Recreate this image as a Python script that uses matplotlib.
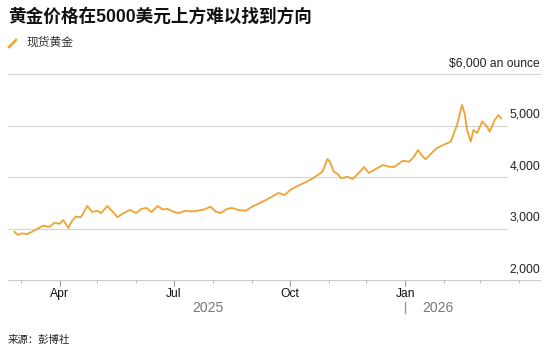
import matplotlib.pyplot as plt
import matplotlib.dates as mdates
import matplotlib.transforms as mtransforms
import pandas as pd

plt.rcParams['font.family'] = ['Liberation Sans', 'Noto Sans CJK SC', 'DejaVu Sans']

dates = [
    "2025-02-24", "2025-02-27", "2025-03-02", "2025-03-06", "2025-03-10", "2025-03-14",
    "2025-03-19", "2025-03-24", "2025-03-28", "2025-04-01", "2025-04-04", "2025-04-08",
    "2025-04-11", "2025-04-14", "2025-04-18", "2025-04-23", "2025-04-27", "2025-05-01",
    "2025-05-04", "2025-05-09", "2025-05-13", "2025-05-17", "2025-05-22", "2025-05-27",
    "2025-06-01", "2025-06-05", "2025-06-09", "2025-06-13", "2025-06-18", "2025-06-22",
    "2025-06-26", "2025-07-01", "2025-07-05", "2025-07-10", "2025-07-15", "2025-07-20",
    "2025-07-25", "2025-07-30", "2025-08-03", "2025-08-07", "2025-08-12", "2025-08-16",
    "2025-08-21", "2025-08-27", "2025-09-01", "2025-09-06", "2025-09-12", "2025-09-17",
    "2025-09-22", "2025-09-27", "2025-10-01", "2025-10-06", "2025-10-12", "2025-10-18",
    "2025-10-24", "2025-10-27", "2025-10-31", "2025-11-02", "2025-11-05", "2025-11-08",
    "2025-11-11", "2025-11-16", "2025-11-20", "2025-11-25", "2025-11-29", "2025-12-03",
    "2025-12-08", "2025-12-14", "2025-12-19", "2025-12-23", "2025-12-30", "2026-01-04",
    "2026-01-08", "2026-01-11", "2026-01-14", "2026-01-17", "2026-01-23", "2026-01-26",
    "2026-01-31", "2026-02-06", "2026-02-11", "2026-02-15", "2026-02-17", "2026-02-19",
    "2026-02-22", "2026-02-24", "2026-02-27", "2026-03-03", "2026-03-07", "2026-03-09",
    "2026-03-13", "2026-03-16", "2026-03-18",
]
prices = [
    2938, 2874, 2905, 2890, 2935, 2990,
    3055, 3030, 3113, 3090, 3165, 3010,
    3150, 3230, 3220, 3437, 3320, 3345,
    3300, 3437, 3330, 3220, 3300, 3360,
    3300, 3380, 3400, 3320, 3437, 3370,
    3380, 3320, 3300, 3345, 3330, 3345,
    3370, 3423, 3330, 3300, 3380, 3400,
    3360, 3345, 3423, 3480, 3553, 3620,
    3690, 3650, 3740, 3812, 3880, 3955,
    4050, 4103, 4350, 4297, 4103, 4060,
    3975, 4006, 3960, 4080, 4194, 4077,
    4150, 4233, 4200, 4194, 4316, 4297,
    4400, 4524, 4420, 4344, 4492, 4560,
    4621, 4686, 5010, 5398, 5243, 4913,
    4686, 4913, 4854, 5080, 4977, 4880,
    5106, 5204, 5140,
]

y_ticks = [2000, 3000, 4000, 5000, 6000]
y_labels = ["2,000", "3,000", "4,000", "5,000", "$6,000 an ounce"]
month_ticks = ["2025-04-01", "2025-07-01", "2025-10-01", "2026-01-01"]
month_labels = ["Apr", "Jul", "Oct", "Jan"]
years = ["2025", "2026"]
year_pos = ["2025-07-28", "2026-01-27"]

gold = "#F0A232"

fig = plt.figure(figsize=(5.53, 3.53), dpi=100)
ax = fig.add_axes([8 / 553, 73 / 353, 532 / 553, 206 / 353])

x = pd.to_datetime(dates)
ax.plot(x, prices, color=gold, lw=1.3, solid_joinstyle="round")

ax.set_xlim(pd.Timestamp("2025-02-19"), pd.Timestamp("2026-04-18"))
ax.set_ylim(2000, 6000)

# gridlines: inner ones stop short of the labels
for v in y_ticks[1:-1]:
    ax.axhline(v, xmin=0, xmax=0.938, color="#d4d4d4", lw=0.8, zorder=0)
ax.axhline(6000, color="#d4d4d4", lw=0.8, zorder=0, clip_on=False)

for v, lab in zip(y_ticks, y_labels):
    ax.annotate(lab, xy=(1.0, v), xycoords=("axes fraction", "data"),
                xytext=(0, 3.5), textcoords="offset points",
                ha="right", va="bottom", fontsize=8.7, color="#222222")

for s in ["top", "left", "right"]:
    ax.spines[s].set_visible(False)
ax.spines["bottom"].set_color("#cccccc")
ax.spines["bottom"].set_linewidth(0.8)
ax.set_yticks([])

ax.set_xticks(pd.to_datetime(month_ticks))
ax.set_xticklabels(month_labels, fontsize=8.7, color="#111111")
ax.xaxis.set_minor_locator(mdates.MonthLocator())
ax.tick_params(axis="x", which="major", length=4, width=0.8, color="#999999", pad=2)
ax.tick_params(axis="x", which="minor", length=2.5, width=0.8, color="#bbbbbb")

trans = mtransforms.blended_transform_factory(ax.transData, ax.transAxes)
for yr, pos in zip(years, year_pos):
    ax.text(pd.Timestamp(pos), -28 / 206, yr, transform=trans, ha="center",
            va="center", fontsize=10, color="#777777")
jan = pd.Timestamp("2026-01-01")
ax.plot([jan, jan], [-22 / 206, -33 / 206], transform=trans, color="#999999",
        lw=1, clip_on=False)

fig.text(8 / 553, 1 - 17 / 353, "黄金价格在5000美元上方难以找到方向", fontsize=12.7,
         fontweight="bold", ha="left", va="center", color="#111111")
fig.lines.append(plt.Line2D([9 / 553, 16 / 553], [1 - 47 / 353, 1 - 40 / 353],
                            transform=fig.transFigure, color=gold, lw=1.8))
fig.text(27 / 553, 1 - 43 / 353, "现货黄金", fontsize=8.5, ha="left", va="center",
         color="#333333")
fig.text(8 / 553, 1 - 340 / 353, "来源：彭博社", fontsize=7.5, ha="left", va="center",
         color="#222222")

fig.savefig("out.png", dpi=100)
